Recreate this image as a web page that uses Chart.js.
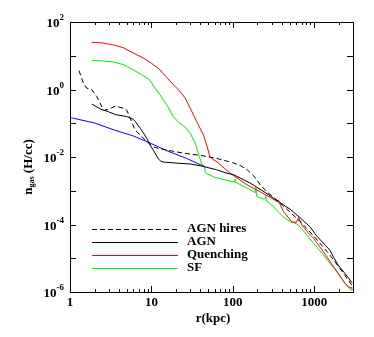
<!DOCTYPE html>
<html>
<head>
<meta charset="utf-8">
<script src="https://cdn.jsdelivr.net/npm/chart.js@4/dist/chart.umd.min.js"></script>
<style>
  html, body { margin: 0; padding: 0; background: #fff; }
  canvas { display: block; }
</style>
</head>
<body>
<canvas id="c" width="374" height="337"></canvas>
<script>
// --- data (r in kpc, n in H/cc) ---
const hiresR = [1.29, 1.46, 1.6, 1.85, 2.13, 2.6, 3.0, 3.6, 4.5, 5.0, 5.5, 6.3, 7.3, 9.2, 10.5, 12.2, 18, 25, 40, 63, 100, 125, 150, 180, 218, 260, 350, 500, 700, 1000, 1500, 2000, 2900];
const hiresN = [3.63, 1.55, 1.10, 1.0, 0.62, 0.24, 0.26, 0.32, 0.28, 0.24, 0.14, 0.063, 0.044, 0.026, 0.020, 0.018, 0.015, 0.0129, 0.0112, 0.0091, 0.0068, 0.0055, 0.0042, 0.0028, 0.0015, 9.5e-4, 5.2e-4, 2.4e-4, 1.12e-4, 4.4e-5, 1.4e-5, 5.6e-6, 1.6e-6];

const agnR = [1.85, 2.4, 2.96, 3.7, 4.98, 6.0, 6.3, 7.3, 8.0, 8.8, 9.6, 10.6, 12.2, 13, 14, 20, 30, 40, 63, 85, 102, 163, 250, 317, 420, 510, 672, 891, 1080, 1560, 1740, 1965, 2400, 2930];
const agnN = [0.37, 0.26, 0.22, 0.178, 0.158, 0.13, 0.115, 0.071, 0.051, 0.035, 0.023, 0.0158, 0.0087, 0.0076, 0.0071, 0.0066, 0.0062, 0.0055, 0.0042, 0.0033, 0.0030, 0.0017, 8.9e-4, 6.0e-4, 3.8e-4, 2.8e-4, 1.58e-4, 8.5e-5, 4.5e-5, 1.74e-5, 1.05e-5, 6.3e-6, 3.5e-6, 1.86e-6];

const quenchR = [1.85, 2.5, 3.4, 4.5, 6, 8, 10, 12.5, 15.5, 19, 22.5, 26, 30, 36, 43.6, 48, 52, 56, 64, 93, 149, 218, 300, 350, 364, 380, 421, 531, 600, 644, 707, 850, 984, 1300, 1730, 2170, 2640, 2930];
const quenchN = [25, 24, 21, 17.4, 12, 8.5, 6.0, 4.0, 2.24, 1.32, 0.87, 0.56, 0.28, 0.112, 0.045, 0.022, 0.0107, 0.0087, 0.0072, 0.0033, 0.0015, 9.3e-4, 6.0e-4, 4.8e-4, 5.2e-4, 4.0e-4, 2.4e-4, 1.2e-4, 1.15e-4, 1.6e-4, 9.5e-5, 5.6e-5, 3.9e-5, 1.55e-5, 5.6e-6, 2.5e-6, 1.4e-6, 1.3e-6];

const sfR = [1.85, 2.5, 3.4, 4.5, 6, 7.5, 8.8, 9.6, 11, 12.8, 15.5, 18.6, 21.5, 24, 26, 29.9, 34.5, 38.9, 41.6, 45, 46, 48, 60, 80, 104, 106, 108, 150, 188, 192, 196, 205, 240, 250, 254, 258, 300, 380, 420, 510, 612, 700, 984, 1300, 1560, 2000, 2300, 2785, 2900, 2930];
const sfN = [7.2, 7.1, 6.5, 5.5, 3.8, 2.8, 2.2, 1.86, 1.12, 0.69, 0.35, 0.158, 0.107, 0.089, 0.076, 0.051, 0.026, 0.0102, 0.0063, 0.0050, 0.0035, 0.0032, 0.0025, 0.0021, 0.0018, 0.0022, 0.0018, 0.0012, 8.9e-4, 1.26e-3, 7.1e-4, 6.5e-4, 5.6e-4, 6.0e-4, 7.2e-4, 5.2e-4, 3.8e-4, 2.1e-4, 1.66e-4, 1.2e-4, 1.05e-4, 7.6e-5, 2.8e-5, 1.26e-5, 7.1e-6, 3.5e-6, 2.0e-6, 1.2e-6, 1.12e-6, 1.4e-6];

const blueR = [1, 2, 3.5, 6, 10, 15, 27, 45.7];
const blueN = [0.148, 0.102, 0.063, 0.042, 0.025, 0.0158, 0.0091, 0.0051];

const xTicks = [1, 10, 100, 1000];
const yTicks = [1e-6, 1e-4, 1e-2, 1, 100];
const yExp = ["-6", "-4", "-2", "0", "2"];

const FONT = "'Liberation Serif', 'DejaVu Serif', serif";
const pts = (r, n) => r.map((v, i) => ({ x: v, y: n[i] }));

// frame, inward ticks, labels, titles and legend in the IDL look
const idlAxes = {
  id: "idlAxes",
  afterDraw(chart) {
    const ctx = chart.ctx, a = chart.chartArea;
    const xs = chart.scales.x, ys = chart.scales.y;
    ctx.save();
    ctx.strokeStyle = "#000";
    ctx.lineWidth = 1;
    ctx.strokeRect(Math.round(a.left) + 0.5, Math.round(a.top) + 0.5, Math.round(a.right - a.left), Math.round(a.bottom - a.top));

    ctx.beginPath();
    for (let d = 1; d <= 1000; d *= 10) {
      for (let m = 1; m <= 9; m++) {
        const v = d * m;
        if (v > 3000) break;
        const px = Math.round(xs.getPixelForValue(v)) + 0.5;
        const len = m === 1 ? 6 : 3;
        ctx.moveTo(px, a.bottom); ctx.lineTo(px, a.bottom - len);
        ctx.moveTo(px, a.top); ctx.lineTo(px, a.top + len);
      }
    }
    for (let e = -6; e <= 2; e++) {
      const py = Math.round(ys.getPixelForValue(Math.pow(10, e))) + 0.5;
      ctx.moveTo(a.left, py); ctx.lineTo(a.left + 6, py);
      ctx.moveTo(a.right, py); ctx.lineTo(a.right - 6, py);
    }
    ctx.stroke();

    ctx.fillStyle = "#000";
    // x tick labels
    ctx.font = "bold 13px " + FONT;
    ctx.textAlign = "center";
    ctx.textBaseline = "middle";
    xTicks.forEach(v => ctx.fillText(String(v), xs.getPixelForValue(v), 303));

    // y tick labels: 10 with exponent
    yTicks.forEach((v, i) => {
      const py = ys.getPixelForValue(v);
      ctx.font = "bold 9px " + FONT;
      const ew = ctx.measureText(yExp[i]).width;
      ctx.textAlign = "left";
      ctx.textBaseline = "alphabetic";
      const right = 64;
      ctx.fillText(yExp[i], right - ew, py - 2);
      ctx.font = "bold 13px " + FONT;
      ctx.textAlign = "right";
      ctx.fillText("10", right - ew, py + 5);
    });

    // x title
    ctx.font = "bold 13px " + FONT;
    ctx.textAlign = "center";
    ctx.textBaseline = "middle";
    ctx.fillText("r(kpc)", 213, 319);

    // y title, rotated
    ctx.save();
    ctx.translate(29, 167);
    ctx.rotate(-Math.PI / 2);
    const parts = [["n", "bold 13px ", 0], ["gas", "bold 8px ", 3], [" (H/cc)", "bold 13px ", 0]];
    let tw = 0;
    parts.forEach(p => { ctx.font = p[1] + FONT; tw += ctx.measureText(p[0]).width; });
    let cx = -tw / 2;
    ctx.textAlign = "left";
    ctx.textBaseline = "middle";
    parts.forEach(p => {
      ctx.font = p[1] + FONT;
      ctx.fillText(p[0], cx, p[2]);
      cx += ctx.measureText(p[0]).width;
    });
    ctx.restore();

    // legend
    const rows = [228.5, 241.5, 254.5, 267.5];
    chart.data.datasets.filter(ds => ds.label).forEach((ds, i) => {
      const y = Math.round(rows[i]) + 0.5;
      ctx.beginPath();
      ctx.strokeStyle = ds.borderColor;
      ctx.lineWidth = 1;
      ctx.setLineDash(ds.borderDash || []);
      ctx.moveTo(92, y); ctx.lineTo(178, y);
      ctx.stroke();
      ctx.setLineDash([]);
      ctx.font = "bold 13px " + FONT;
      ctx.fillStyle = "#000";
      ctx.textAlign = "left";
      ctx.textBaseline = "middle";
      ctx.fillText(ds.label, 187, rows[i]);
    });
    ctx.restore();
  }
};

const line = (label, r, n, color, dash) => ({
  label, data: pts(r, n), borderColor: color, borderWidth: 1,
  borderDash: dash, pointRadius: 0, tension: 0, fill: false
});

new Chart(document.getElementById("c"), {
  type: "line",
  data: {
    datasets: [
      line("AGN hires", hiresR, hiresN, "#000000", [5, 3]),
      line("AGN", agnR, agnN, "#000000"),
      line("Quenching", quenchR, quenchN, "#ff0000"),
      line("SF", sfR, sfN, "#00ee00"),
      line("", blueR, blueN, "#0000ff")
    ]
  },
  options: {
    responsive: false,
    animation: false,
    devicePixelRatio: 1,
    layout: { padding: { top: 22, right: 21, left: 0, bottom: 0 } },
    plugins: { legend: { display: false }, tooltip: { enabled: false } },
    scales: {
      x: {
        type: "logarithmic", min: 1, max: 3000,
        grid: { display: false }, border: { display: false },
        ticks: { display: false },
        afterFit: s => { s.height = 45; }
      },
      y: {
        type: "logarithmic", min: 1e-6, max: 100,
        grid: { display: false }, border: { display: false },
        ticks: { display: false },
        afterFit: s => { s.width = 70; }
      }
    }
  },
  plugins: [idlAxes]
});
</script>
</body>
</html>
